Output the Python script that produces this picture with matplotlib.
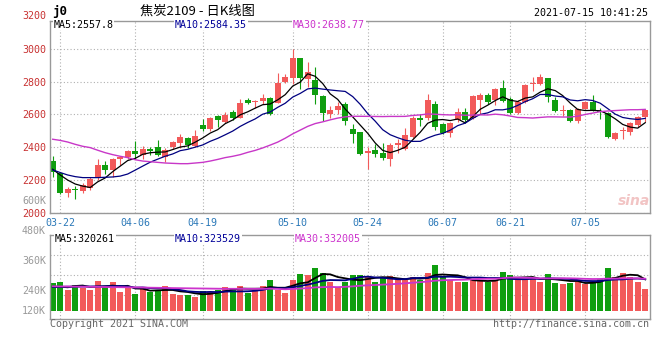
import numpy as np
import pandas as pd
import matplotlib
matplotlib.use("Agg")
import matplotlib.pyplot as plt

# 焦炭2109 daily bars, 2021-03-19 .. 2021-07-15
opens = [2315, 2240, 2122, 2146, 2134, 2148, 2212, 2291, 2261, 2325,
         2340, 2374, 2350, 2391, 2401, 2340, 2401, 2425, 2458, 2405,
         2535, 2509, 2590, 2555, 2614, 2580, 2690, 2673, 2681, 2698,
         2671, 2797, 2823, 2941, 2817, 2809, 2711, 2604, 2624, 2661,
         2510, 2494, 2362, 2381, 2364, 2327, 2413, 2391, 2462, 2578,
         2578, 2661, 2541, 2488, 2566, 2612, 2580, 2686, 2716, 2686,
         2762, 2692, 2606, 2675, 2783, 2785, 2823, 2688, 2620, 2626,
         2561, 2635, 2677, 2622, 2610, 2448, 2500, 2494, 2537, 2582]
highs = [2346, 2250, 2159, 2165, 2183, 2220, 2328, 2315, 2336, 2343,
         2384, 2437, 2405, 2401, 2441, 2397, 2435, 2482, 2464, 2503,
         2571, 2584, 2594, 2614, 2626, 2692, 2698, 2688, 2722, 2704,
         2850, 2846, 2996, 2941, 2921, 2887, 2715, 2651, 2677, 2677,
         2541, 2494, 2399, 2417, 2423, 2423, 2452, 2519, 2588, 2604,
         2722, 2679, 2545, 2555, 2637, 2641, 2716, 2730, 2730, 2762,
         2808, 2704, 2688, 2783, 2826, 2844, 2823, 2708, 2657, 2632,
         2637, 2681, 2718, 2637, 2616, 2492, 2525, 2555, 2590, 2630]
lows = [2220, 2114, 2098, 2086, 2118, 2138, 2199, 2236, 2220, 2291,
        2327, 2327, 2325, 2350, 2348, 2311, 2391, 2397, 2397, 2401,
        2500, 2500, 2521, 2545, 2566, 2576, 2663, 2641, 2663, 2594,
        2667, 2789, 2783, 2752, 2769, 2661, 2559, 2580, 2602, 2535,
        2423, 2352, 2265, 2340, 2323, 2285, 2362, 2384, 2458, 2527,
        2564, 2507, 2480, 2464, 2555, 2545, 2572, 2604, 2665, 2657,
        2677, 2602, 2602, 2667, 2745, 2779, 2677, 2616, 2590, 2555,
        2545, 2630, 2620, 2570, 2454, 2443, 2452, 2474, 2521, 2555]
closes = [2246, 2118, 2142, 2136, 2169, 2203, 2291, 2261, 2328, 2337,
          2374, 2356, 2386, 2376, 2354, 2381, 2429, 2462, 2411, 2468,
          2509, 2578, 2566, 2594, 2580, 2667, 2669, 2679, 2698, 2602,
          2793, 2827, 2941, 2819, 2856, 2717, 2606, 2626, 2651, 2561,
          2478, 2356, 2376, 2356, 2334, 2411, 2425, 2472, 2580, 2564,
          2686, 2523, 2488, 2549, 2612, 2566, 2710, 2716, 2675, 2752,
          2681, 2606, 2677, 2779, 2789, 2826, 2708, 2622, 2626, 2561,
          2632, 2675, 2626, 2614, 2460, 2488, 2504, 2545, 2582, 2626]
# volume in thousands of lots
volumes = [286, 296, 213, 263, 230, 213, 306, 240, 296, 196,
           236, 173, 230, 196, 213, 253, 173, 163, 163, 146,
           206, 196, 213, 246, 230, 253, 186, 213, 253, 313,
           213, 186, 313, 373, 363, 430, 386, 296, 240, 296,
           363, 363, 353, 296, 330, 353, 313, 313, 340, 313,
           386, 463, 340, 313, 296, 296, 313, 313, 296, 313,
           396, 363, 313, 313, 330, 296, 373, 286, 273, 286,
           296, 273, 296, 320, 430, 346, 386, 346, 296, 223]

date_idx = [1, 11, 20, 32, 42, 52, 61, 71]
date_labels = ["03-22", "04-06", "04-19", "05-10", "05-24", "06-07", "06-21", "07-05"]

# moving-average values at the left edge (earlier bars not shown)
ma5_head = [2265, 2230, 2199, 2175]
ma10_head = [2261, 2245, 2230, 2220, 2214, 2214, 2214, 2216, 2218]
ma30_head = [2448, 2441, 2431, 2417, 2405, 2397, 2381, 2366, 2354, 2344,
             2336, 2323, 2315, 2311, 2307, 2303, 2301, 2299, 2299, 2303,
             2307, 2315, 2325, 2336, 2344, 2354, 2368, 2380, 2395]
vma5_head = [246, 246, 240, 253]
vma10_head = [244, 244, 246, 246, 248, 248, 250, 250, 252]
vma30_head = [250, 249, 248, 247, 246, 245, 244, 243, 242, 241,
              240, 239, 238, 236, 235, 234, 232, 231, 230, 229,
              228, 227, 226, 225, 225, 225, 225, 225, 225]

RED = "#f25a5a"
GREEN = "#0f9e0f"
BLUE_TXT = "#2a78b8"
TICK_RED = "#c83232"
GREY = "#999999"
GRID = "#b0b0b0"


def moving_avg(values, n, head):
    s = pd.Series(values, dtype=float).rolling(n).mean().to_numpy()
    s[:n - 1] = head
    return s


opens = np.array(opens, float)
closes = np.array(closes, float)
highs = np.array(highs, float)
lows = np.array(lows, float)
vol = np.array(volumes, float) * 1000
x = np.arange(len(closes))
colors = np.where(closes >= opens, RED, GREEN)

W, H = 660, 360
def fx(px):
    return px / W
def fy(py):
    return 1 - py / H

plt.rcParams['font.family'] = ['DejaVu Sans Mono']

fig = plt.figure(figsize=(6.6, 3.6), dpi=100)
ax = fig.add_axes([fx(50), fy(212.7), fx(650) - fx(50), fy(20.7) - fy(212.7)])
axv = fig.add_axes([fx(50), fy(318.7), fx(650) - fx(50), fy(234.7) - fy(318.7)])

grid_kw = dict(color=GRID, linestyle=(0, (1, 2)), linewidth=0.8)
for a in (ax, axv):
    a.set_xlim(-0.36, 79.64)
    a.set_axisbelow(True)
    a.grid(True, **grid_kw)
    for s in a.spines.values():
        s.set_color(GREY)
        s.set_linewidth(1)
    a.tick_params(length=0)

# candles
ax.vlines(x, lows, highs, colors=colors, linewidth=0.8)
body = np.maximum(np.abs(closes - opens), 5)
ax.bar(x, body, bottom=np.minimum(opens, closes), width=0.75, color=colors, linewidth=0)

ax.plot(x, moving_avg(closes, 5, ma5_head), color="black", lw=0.9)
ax.plot(x, moving_avg(closes, 10, ma10_head), color="#000080", lw=0.9)
ax.plot(x, moving_avg(closes, 30, ma30_head), color="#c837c8", lw=1.0)

ax.set_ylim(2000, 3171)
ax.set_yticks(range(2000, 3001, 200))
ax.tick_params(axis='y', labelcolor=TICK_RED, labelsize=7.2, pad=3)
ax.set_xticks(date_idx)
ax.set_xticklabels(date_labels)
ax.tick_params(axis='x', labelcolor=BLUE_TXT, labelsize=7.2, pad=3.5)

# volume
axv.bar(x, vol, width=0.8, color=colors, linewidth=0)
axv.plot(x, moving_avg(vol, 5, np.array(vma5_head) * 1000), color="black", lw=1.3)
axv.plot(x, moving_avg(vol, 10, np.array(vma10_head) * 1000), color="#000080", lw=1.3)
axv.plot(x, moving_avg(vol, 30, np.array(vma30_head) * 1000), color="#cc33cc", lw=1.3)
axv.set_ylim(-74000, 766000)
axv.set_yticks([160000, 360000, 560000])
axv.set_yticklabels([])
axv.set_xticks(date_idx)
axv.set_xticklabels([])

# texts
box = dict(facecolor="white", edgecolor="none", pad=0.6)
fs = 7.2
fig.text(fx(52), fy(11), "j0", fontsize=9, fontweight="bold", va="center")
fig.text(fx(140), fy(11), "焦炭2109 - 日K线图", fontsize=9.5, va="center",
         family=["Noto Sans CJK SC", "DejaVu Sans"])
fig.text(fx(648), fy(12.5), "2021-07-15 10:41:25", fontsize=fs, ha="right", va="center")
fig.text(fx(46), fy(15.7), "3200", fontsize=fs, color=TICK_RED, ha="right", va="center")
fig.text(fx(46), fy(200.7), "600K", fontsize=fs, color=GREY, ha="right", va="center")

fig.text(fx(53.5), fy(24.5), "MA5:2557.8", fontsize=fs, va="center", bbox=box)
fig.text(fx(175), fy(24.5), "MA10:2584.35", fontsize=fs, color="#000099", va="center", bbox=box)
fig.text(fx(293), fy(24.5), "MA30:2638.77", fontsize=fs, color="#cc33cc", va="center", bbox=box)

fig.text(fx(55), fy(238.5), "MA5:320261", fontsize=fs, va="center", bbox=box)
fig.text(fx(175), fy(238.5), "MA10:323529", fontsize=fs, color="#000099", va="center", bbox=box)
fig.text(fx(295), fy(238.5), "MA30:332005", fontsize=fs, color="#cc33cc", va="center", bbox=box)

for lab, py in zip(["480K", "360K", "240K", "120K"], [231, 261, 291, 311]):
    fig.text(fx(46), fy(py), lab, fontsize=fs, color=GREY, ha="right", va="center")

fig.text(fx(50), fy(324), "Copyright 2021 SINA.COM", fontsize=fs, color="#666666", va="center")
fig.text(fx(649), fy(324), "http://finance.sina.com.cn", fontsize=fs, color="#666666",
         ha="right", va="center")
fig.text(fx(634), fy(201), "sina", fontsize=10, color="#f2c4c4", style="italic",
         fontweight="bold", ha="center", va="center", family="DejaVu Sans")

fig.savefig("out.png", dpi=100)
